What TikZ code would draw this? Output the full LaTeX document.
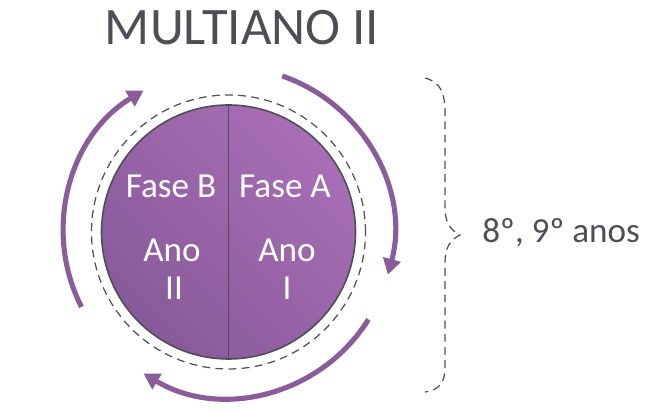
\documentclass[tikz,border=0pt]{standalone}
\usepackage{fontspec}
\setmainfont{Carlito}
\usetikzlibrary{arrows.meta}
\definecolor{roxo}{HTML}{8B5C9B}
\definecolor{roxoclaro}{HTML}{A86EB6}
\definecolor{roxoescuro}{HTML}{885A99}
\definecolor{cinza}{HTML}{4E4E56}
\tikzset{
  ciclo/.style={roxo,line width=2.9pt,-{Triangle[length=9pt,width=10pt]}},
  fase/.style={white,font=\fontsize{20}{22}\selectfont,anchor=base},
}
\begin{document}
\begin{tikzpicture}[x=0.02cm,y=0.02cm]
  \useasboundingbox (0,0) rectangle (666,412);
  \coordinate (c) at (228.5,180);
  % disco das duas fases
  \shade[left color=roxoescuro,right color=roxoclaro,shading angle=135,draw=cinza,line width=0.9pt] (c) circle (127);
  \draw[cinza,line width=0.9pt] (c) ++(0,127) -- ++(0,-254);
  \draw[cinza,line width=0.7pt,dash pattern=on 4.5pt off 3pt] (c) circle (137);
  % setas do ciclo
  \draw[ciclo] ([shift={(71:165)}]c) arc[start angle=71,end angle=-15,radius=165];
  \draw[ciclo] ([shift={(-32:165)}]c) arc[start angle=-32,end angle=-121,radius=165];
  \draw[ciclo] ([shift={(207:165)}]c) arc[start angle=207,end angle=121,radius=165];
  \node[fase] (faseB) at (171,214) {Fase B};
  \node[fase] (faseA) at (285,214) {Fase A};
  \node[fase] (anoB) at (172,150) {Ano};
  \node[fase] (anoA) at (287,150) {Ano};
  \node[fase] (numB) at (174,112) {II};
  \node[fase] (numA) at (287,112) {I};
  \node[cinza,font=\fontsize{30}{32}\selectfont,anchor=base] (titulo) at (242,367) {MULTIANO II};
  % chave
  \coordinate (ponta) at (460,177);
  \draw[cinza,line width=0.7pt,dash pattern=on 4.5pt off 3pt]
    (425,334) .. controls (440,330) and (445,320) .. (445,300) -- (445,205)
    .. controls (445,190) and (450,182) .. (ponta)
    .. controls (450,172) and (445,164) .. (445,150) -- (445,45)
    .. controls (445,30) and (440,22) .. (425,20);
  \node[cinza,font=\fontsize{20}{22}\selectfont,anchor=base west,inner sep=0pt] (anos) at (482,169) {8º, 9º anos};
\end{tikzpicture}
\end{document}
